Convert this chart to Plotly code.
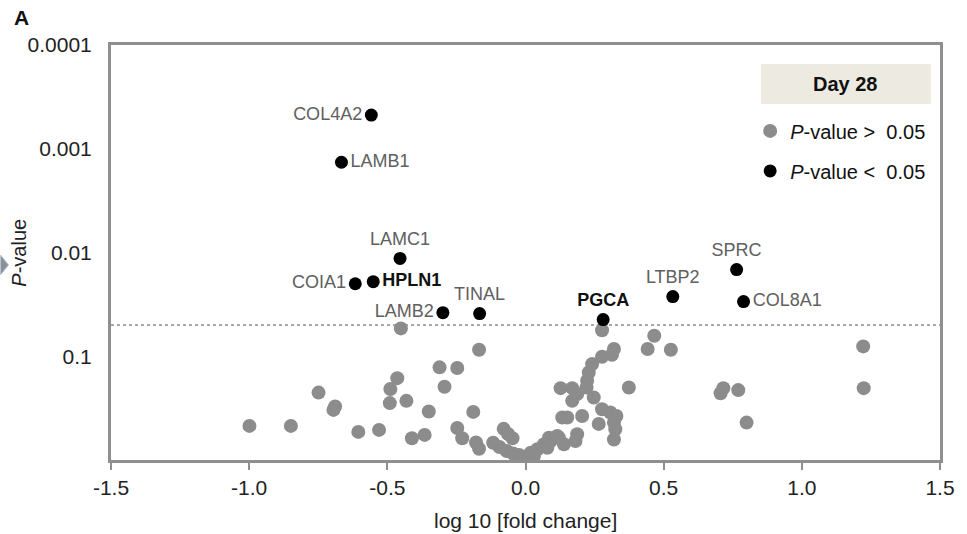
import plotly.graph_objects as go

# ---- data ----
# Significant genes (P < 0.05)
sig_genes = ["COL4A2", "LAMB1", "LAMC1", "COIA1", "HPLN1", "LAMB2", "TINAL",
             "PGCA", "LTBP2", "SPRC", "COL8A1"]
sig_fc = [-0.558, -0.666, -0.454, -0.616, -0.551, -0.299, -0.166,
          0.281, 0.533, 0.764, 0.789]
sig_p = [0.000474, 0.00135, 0.0114, 0.0200, 0.0191, 0.0380, 0.0388,
         0.0443, 0.0266, 0.0146, 0.0297]
sig_bold = ["HPLN1", "PGCA"]
sig_label_pos = ["middle left", "middle right", "top center", "middle left",
                 "middle right", "middle left", "top center", "top center",
                 "top center", "top center", "middle right"]

# Non-significant genes (P > 0.05)
ns_fc = [-0.451, -0.168, -0.311, -0.247, -0.464, -0.293, -0.749, -0.489, -0.491,
         -0.431, -0.689, -0.695, -0.350, -0.189, -0.999, -0.849, -0.605, -0.530,
         -0.411, -0.365, -0.247, -0.229, -0.179, -0.168, -0.079, -0.063, -0.047,
         -0.117, -0.094, -0.068, -0.045, -0.023, -0.005, 0.013,
         0.277, 0.466, 0.442, 0.526, 0.320, 0.313, 0.277, 0.241, 0.229, 0.223,
         0.221, 0.127, 0.169, 0.187, 0.169, 0.247, 0.374, 0.277, 0.307, 0.329,
         0.320, 0.325, 0.320, 0.133, 0.151, 0.205, 0.265, 0.187, 0.181, 0.121,
         0.139, 0.085, 0.067, 0.043, 0.019, 0.091, 0.079, 0.115, 0.716, 0.706,
         0.770, 0.800, 1.222, 1.224, 0.000, 0.030, -0.030]
ns_p = [0.0539, 0.0865, 0.128, 0.130, 0.1625, 0.197, 0.224, 0.207, 0.283,
        0.269, 0.305, 0.329, 0.341, 0.344, 0.469, 0.469, 0.536, 0.513,
        0.617, 0.573, 0.491, 0.617, 0.678, 0.780, 0.501, 0.561, 0.617,
        0.681, 0.749, 0.819, 0.865, 0.895, 0.946, 0.984,
        0.0561, 0.0634, 0.0851, 0.0865, 0.0851, 0.0968, 0.101, 0.119, 0.1435,
        0.1725, 0.200, 0.203, 0.203, 0.232, 0.269, 0.250, 0.200, 0.324, 0.349,
        0.376, 0.436, 0.505, 0.634, 0.390, 0.390, 0.376, 0.449, 0.565, 0.655,
        0.609, 0.705, 0.609, 0.705, 0.788, 0.850, 0.655, 0.761, 0.586, 0.203,
        0.227, 0.212, 0.436, 0.0804, 0.203, 0.990, 0.920, 0.930]

p_threshold = 0.05
x_ticks = [-1.5, -1.0, -0.5, 0.0, 0.5, 1.0, 1.5]
x_tick_text = ["-1.5", "-1.0", "-0.5", "0.0", "0.5", "1.0", "1.5"]
y_ticks = [0.0001, 0.001, 0.01, 0.1]
y_tick_text = ["0.0001", "0.001", "0.01", "0.1"]

FONT = "Liberation Sans, Arial, sans-serif"
FRAME = "#8f8f8f"
GRAY = "#8c8c8c"

labels = [f"<b>{g}</b>" if g in sig_bold else g for g in sig_genes]
label_colors = ["#111111" if g in sig_bold else "#606060" for g in sig_genes]

fig = go.Figure()
fig.add_trace(go.Scatter(
    x=ns_fc, y=ns_p, mode="markers",
    marker=dict(color=GRAY, size=14, line=dict(width=0)),
    name="<i>P</i>-value &gt;  0.05", legendgroup="a", hoverinfo="skip"))
fig.add_trace(go.Scatter(
    x=sig_fc, y=sig_p, mode="markers+text",
    marker=dict(color="#000000", size=13, line=dict(width=0)),
    text=labels, textposition=sig_label_pos,
    textfont=dict(family=FONT, size=18, color=label_colors),
    name="<i>P</i>-value &lt;  0.05", legendgroup="b", hoverinfo="skip"))

# threshold line
fig.add_shape(type="line", xref="paper", x0=0, x1=1, yref="y",
              y0=p_threshold, y1=p_threshold,
              line=dict(color="#a8a8a8", width=2, dash="dot"), layer="below")

# Day 28 header box
fig.add_shape(type="rect", xref="paper", yref="paper", x0=0.784, x1=0.989,
              y0=0.858, y1=0.954, fillcolor="#edebe1", line=dict(width=0))
fig.add_annotation(x=0.8865, y=0.906, xref="paper", yref="paper",
                   xanchor="center", yanchor="middle",
                   text="<b>Day 28</b>", showarrow=False,
                   font=dict(family=FONT, size=20, color="#111111"))

# panel letter and titles
fig.add_annotation(x=-0.108, y=1.066, xref="paper", yref="paper",
                   xanchor="center", yanchor="middle",
                   text="<b>A</b>", showarrow=False,
                   font=dict(family=FONT, size=21, color="#111111"))
fig.add_annotation(x=-0.112, y=0.5, xref="paper", yref="paper",
                   xanchor="center", yanchor="middle",
                   text="<i>P</i>-value", showarrow=False, textangle=-90,
                   font=dict(family=FONT, size=20, color="#222222"))
fig.add_annotation(x=0.5, y=-0.145, xref="paper", yref="paper",
                   xanchor="center", yanchor="middle",
                   text="log 10 [fold change]", showarrow=False,
                   font=dict(family=FONT, size=21, color="#222222"))

# small grey arrow at left edge
fig.add_shape(type="path", xref="paper", yref="paper",
              path="M -0.1333 0.494 L -0.1236 0.470 L -0.1333 0.446 Z",
              fillcolor="#8a9099", line=dict(color="#b8c4d0", width=1))

fig.update_layout(
    width=967, height=534,
    margin=dict(l=111, r=23, t=45, b=74),
    paper_bgcolor="white", plot_bgcolor="white",
    font=dict(family=FONT, size=20, color="#222222"),
    showlegend=True,
    legend=dict(x=0.771, y=0.84, xanchor="left", yanchor="top",
                bgcolor="rgba(0,0,0,0)", tracegroupgap=11,
                traceorder="grouped",
                font=dict(family=FONT, size=20, color="#111111")),
    xaxis=dict(range=[-1.5, 1.5], tickvals=x_ticks, ticktext=x_tick_text,
               showgrid=False, zeroline=False, showline=True, mirror=True,
               linecolor=FRAME, linewidth=3, ticks="outside", ticklen=7,
               tickwidth=2, tickcolor=FRAME,
               tickfont=dict(family=FONT, size=21, color="#222222")),
    yaxis=dict(type="log", range=[0, -4], tickvals=y_ticks,
               ticktext=y_tick_text, showgrid=False, zeroline=False,
               showline=True, mirror=True, linecolor=FRAME, linewidth=3,
               ticks="", ticklabelstandoff=12,
               tickfont=dict(family=FONT, size=21, color="#222222")),
    yaxis2=dict(type="log", range=[0, -4], overlaying="y", anchor="free",
                position=0.5, side="left", tickvals=y_ticks,
                showticklabels=False, ticks="outside", ticklen=5,
                tickwidth=2, tickcolor=FRAME, showgrid=False,
                zeroline=False, showline=True, linecolor=FRAME, linewidth=2.5),
)

fig.write_html("out.html")
